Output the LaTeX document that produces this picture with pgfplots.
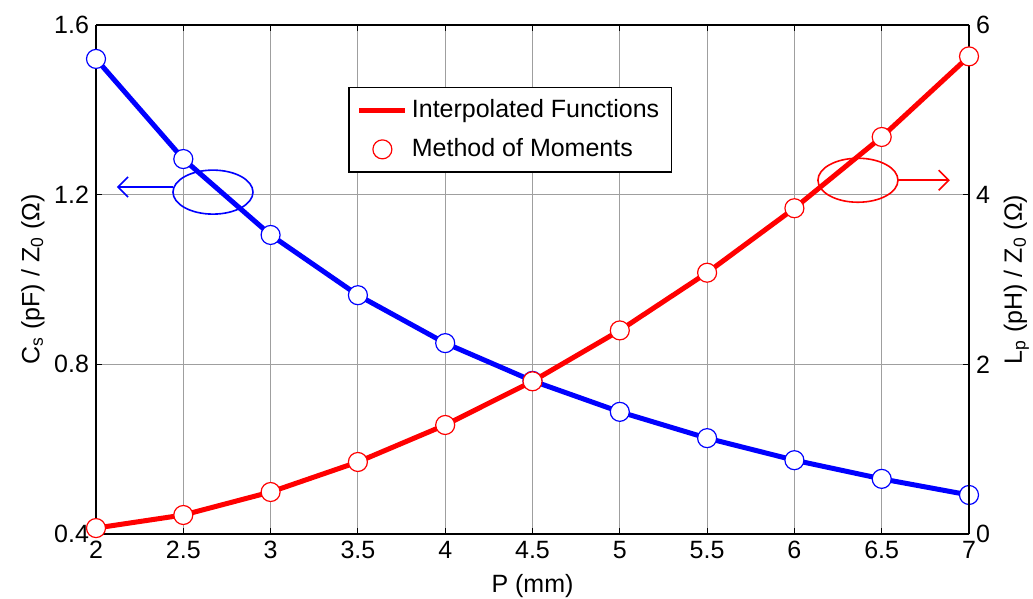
\documentclass[border=0pt]{standalone}
\usepackage{pgfplots}
\pgfplotsset{compat=1.18}
\usepackage{fontspec}
\setmainfont{Liberation Sans}
\usetikzlibrary{arrows.meta}

\pgfplotsset{
  every axis/.append style={
    scale only axis,
    width=436.5pt, height=254.5pt,
    xmin=2, xmax=7,
    tick align=inside,
    major tick length=3pt,
    tick style={black, line width=0.5pt},
    axis line style={black, line width=0.6pt},
    font=\fontsize{12.5}{15}\selectfont,
    /pgf/number format/assume math mode=true,
  },
}

\begin{document}
\begin{tikzpicture}
\begin{axis}[
  name=ax,
  axis y line*=left,
  ymin=0.4, ymax=1.6,
  xtick={2,2.5,...,7},
  ytick={0.4,0.8,1.2,1.6},
  yticklabel style={/pgf/number format/.cd, fixed, fixed zerofill, precision=1},
  grid=major,
  major grid style={gray!75, line width=0.45pt},
  xlabel={P (mm)},
  xlabel style={yshift=-1pt},
  ylabel={C\textsubscript{s} (pF) / Z\textsubscript{0} (Ω)},
  ylabel style={yshift=-2pt},
  clip=false,
]
\addplot[blue, line width=2.5pt, mark=*, mark size=4.75pt,
  mark options={fill=white, draw=blue, line width=0.6pt}] coordinates {
  (2,1.52) (2.5,1.284) (3,1.105) (3.5,0.963) (4,0.850) (4.5,0.761)
  (5,0.688) (5.5,0.626) (6,0.574) (6.5,0.530) (7,0.492)
};
\draw[blue, line width=0.8pt] (axis cs:2.67,1.206) ellipse [x radius=20pt, y radius=11pt];
\draw[blue, line width=0.8pt, -{Straight Barb[length=5pt,width=10pt]}]
  (axis cs:2.441,1.218) -- (axis cs:2.12,1.218);
\end{axis}
\begin{axis}[
  axis y line*=right,
  axis x line=none,
  ymin=0, ymax=6,
  ytick={0,2,4,6},
  ylabel={L\textsubscript{p} (pH) / Z\textsubscript{0} (Ω)},
  clip=false,
  legend style={at={(rel axis cs:0.289,0.878)}, anchor=north west,
    draw=black, line width=0.6pt, font=\fontsize{12.5}{15}\selectfont,
    row sep=5pt, inner xsep=4pt, inner ysep=4pt},
  legend cell align=left,
]
\addplot[red, line width=2.5pt,
  legend image code/.code={\draw[red, line width=2.5pt] (0pt,0pt) -- (23pt,0pt);}]
  coordinates {
  (2,0.07) (2.5,0.224) (3,0.495) (3.5,0.849) (4,1.285) (4.5,1.80)
  (5,2.40) (5.5,3.08) (6,3.84) (6.5,4.68) (7,5.63)
};
\addlegendentry{Interpolated Functions}
\addplot[only marks, mark=*, mark size=4.75pt,
  mark options={fill=white, draw=red, line width=0.6pt},
  legend image code/.code={\draw[red, fill=white, line width=0.6pt] (11.5pt,0pt) circle[radius=4.75pt];}]
  coordinates {
  (2,0.07) (2.5,0.224) (3,0.495) (3.5,0.849) (4,1.285) (4.5,1.80)
  (5,2.40) (5.5,3.08) (6,3.84) (6.5,4.68) (7,5.63)
};
\addlegendentry{Method of Moments}
\draw[red, line width=0.8pt] (axis cs:6.364,4.17) ellipse [x radius=20pt, y radius=11pt];
\draw[red, line width=0.8pt, -{Straight Barb[length=5pt,width=10pt]}]
  (axis cs:6.593,4.17) -- (axis cs:6.89,4.17);
\end{axis}
\pgfresetboundingbox
\path ([xshift=-48pt,yshift=-32pt]ax.south west) rectangle ([xshift=32pt,yshift=12.5pt]ax.north east);
\end{tikzpicture}
\end{document}
